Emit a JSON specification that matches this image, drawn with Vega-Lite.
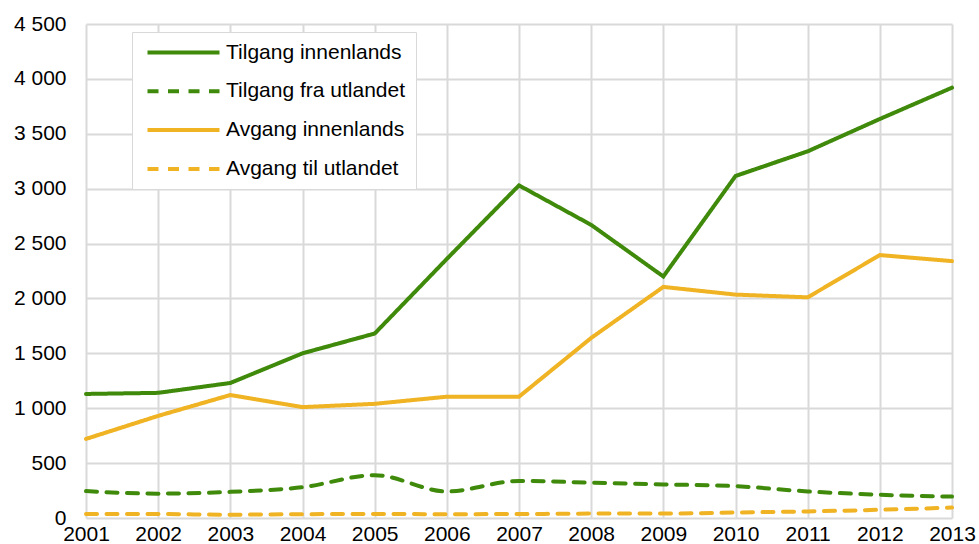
{
  "$schema": "https://vega.github.io/schema/vega-lite/v6.json",
  "width": 866,
  "height": 494,
  "autosize": {"type": "none"},
  "padding": {"left": 86, "top": 24, "right": 27, "bottom": 26},
  "background": "white",
  "config": {
    "view": {"stroke": null},
    "font": "Liberation Sans",
    "axis": {
      "grid": true,
      "gridColor": "#d9d9d9",
      "gridWidth": 2,
      "domain": false,
      "ticks": false,
      "labelFontSize": 21,
      "labelColor": "#000000",
      "labelFont": "Liberation Sans",
      "title": null
    },
    "legend": {
      "orient": "none",
      "legendX": 46,
      "legendY": 8,
      "symbolType": "M-1.25,0H16.75",
      "symbolSize": 64,
      "symbolStrokeWidth": 4,
      "labelFontSize": 21,
      "labelFont": "Liberation Sans",
      "labelColor": "#000000",
      "labelOffset": 63,
      "labelLimit": 400,
      "rowPadding": 16.8,
      "padding": 10,
      "strokeColor": "#d9d9d9",
      "fillColor": "#ffffff",
      "title": null
    }
  },
  "data": {
    "values": [
      {"year": 2001, "series": "Tilgang innenlands", "value": 1130},
      {"year": 2002, "series": "Tilgang innenlands", "value": 1140},
      {"year": 2003, "series": "Tilgang innenlands", "value": 1230},
      {"year": 2004, "series": "Tilgang innenlands", "value": 1500},
      {"year": 2005, "series": "Tilgang innenlands", "value": 1680},
      {"year": 2006, "series": "Tilgang innenlands", "value": 2360},
      {"year": 2007, "series": "Tilgang innenlands", "value": 3030},
      {"year": 2008, "series": "Tilgang innenlands", "value": 2670},
      {"year": 2009, "series": "Tilgang innenlands", "value": 2200},
      {"year": 2010, "series": "Tilgang innenlands", "value": 3115},
      {"year": 2011, "series": "Tilgang innenlands", "value": 3340},
      {"year": 2012, "series": "Tilgang innenlands", "value": 3635},
      {"year": 2013, "series": "Tilgang innenlands", "value": 3920},
      {"year": 2001, "series": "Tilgang fra utlandet", "value": 245},
      {"year": 2002, "series": "Tilgang fra utlandet", "value": 222},
      {"year": 2003, "series": "Tilgang fra utlandet", "value": 238},
      {"year": 2004, "series": "Tilgang fra utlandet", "value": 280},
      {"year": 2005, "series": "Tilgang fra utlandet", "value": 390},
      {"year": 2006, "series": "Tilgang fra utlandet", "value": 242},
      {"year": 2007, "series": "Tilgang fra utlandet", "value": 338},
      {"year": 2008, "series": "Tilgang fra utlandet", "value": 322},
      {"year": 2009, "series": "Tilgang fra utlandet", "value": 306},
      {"year": 2010, "series": "Tilgang fra utlandet", "value": 290},
      {"year": 2011, "series": "Tilgang fra utlandet", "value": 242},
      {"year": 2012, "series": "Tilgang fra utlandet", "value": 212},
      {"year": 2013, "series": "Tilgang fra utlandet", "value": 195},
      {"year": 2001, "series": "Avgang innenlands", "value": 720},
      {"year": 2002, "series": "Avgang innenlands", "value": 930},
      {"year": 2003, "series": "Avgang innenlands", "value": 1120},
      {"year": 2004, "series": "Avgang innenlands", "value": 1010},
      {"year": 2005, "series": "Avgang innenlands", "value": 1040},
      {"year": 2006, "series": "Avgang innenlands", "value": 1105},
      {"year": 2007, "series": "Avgang innenlands", "value": 1105},
      {"year": 2008, "series": "Avgang innenlands", "value": 1640},
      {"year": 2009, "series": "Avgang innenlands", "value": 2105},
      {"year": 2010, "series": "Avgang innenlands", "value": 2035},
      {"year": 2011, "series": "Avgang innenlands", "value": 2010},
      {"year": 2012, "series": "Avgang innenlands", "value": 2395},
      {"year": 2013, "series": "Avgang innenlands", "value": 2340},
      {"year": 2001, "series": "Avgang til utlandet", "value": 36},
      {"year": 2002, "series": "Avgang til utlandet", "value": 36},
      {"year": 2003, "series": "Avgang til utlandet", "value": 30},
      {"year": 2004, "series": "Avgang til utlandet", "value": 35},
      {"year": 2005, "series": "Avgang til utlandet", "value": 36},
      {"year": 2006, "series": "Avgang til utlandet", "value": 35},
      {"year": 2007, "series": "Avgang til utlandet", "value": 36},
      {"year": 2008, "series": "Avgang til utlandet", "value": 40},
      {"year": 2009, "series": "Avgang til utlandet", "value": 40},
      {"year": 2010, "series": "Avgang til utlandet", "value": 50},
      {"year": 2011, "series": "Avgang til utlandet", "value": 60},
      {"year": 2012, "series": "Avgang til utlandet", "value": 75},
      {"year": 2013, "series": "Avgang til utlandet", "value": 95}
    ]
  },
  "encoding": {
    "x": {
      "field": "year",
      "type": "quantitative",
      "scale": {"domain": [2001, 2013], "nice": false, "zero": false},
      "axis": {
        "values": [2001, 2002, 2003, 2004, 2005, 2006, 2007, 2008, 2009, 2010, 2011, 2012, 2013],
        "format": "d",
        "labelPadding": 5,
        "labelFlush": false
      }
    },
    "y": {
      "field": "value",
      "type": "quantitative",
      "scale": {"domain": [0, 4500], "nice": false},
      "axis": {
        "values": [0, 500, 1000, 1500, 2000, 2500, 3000, 3500, 4000, 4500],
        "labelExpr": "replace(format(datum.value, ','), ',', ' ')",
        "labelPadding": 20
      }
    },
    "color": {
      "field": "series",
      "type": "nominal",
      "scale": {
        "domain": ["Tilgang innenlands", "Tilgang fra utlandet", "Avgang innenlands", "Avgang til utlandet"],
        "range": ["#3f8a0b", "#3f8a0b", "#efb323", "#efb323"]
      },
      "legend": {"title": null}
    },
    "strokeDash": {
      "field": "series",
      "type": "nominal",
      "scale": {
        "domain": ["Tilgang innenlands", "Tilgang fra utlandet", "Avgang innenlands", "Avgang til utlandet"],
        "range": [[1, 0], [11, 9.5], [1, 0], [11, 9.5]]
      },
      "legend": {"title": null}
    }
  },
  "layer": [
    {
      "transform": [{"filter": "indexof(datum.series, 'utlandet') >= 0"}],
      "mark": {"type": "line", "strokeWidth": 4, "strokeCap": "round", "interpolate": "monotone"}
    },
    {
      "transform": [{"filter": "indexof(datum.series, 'innenlands') >= 0"}],
      "mark": {"type": "line", "strokeWidth": 4, "strokeCap": "round"}
    }
  ]
}
